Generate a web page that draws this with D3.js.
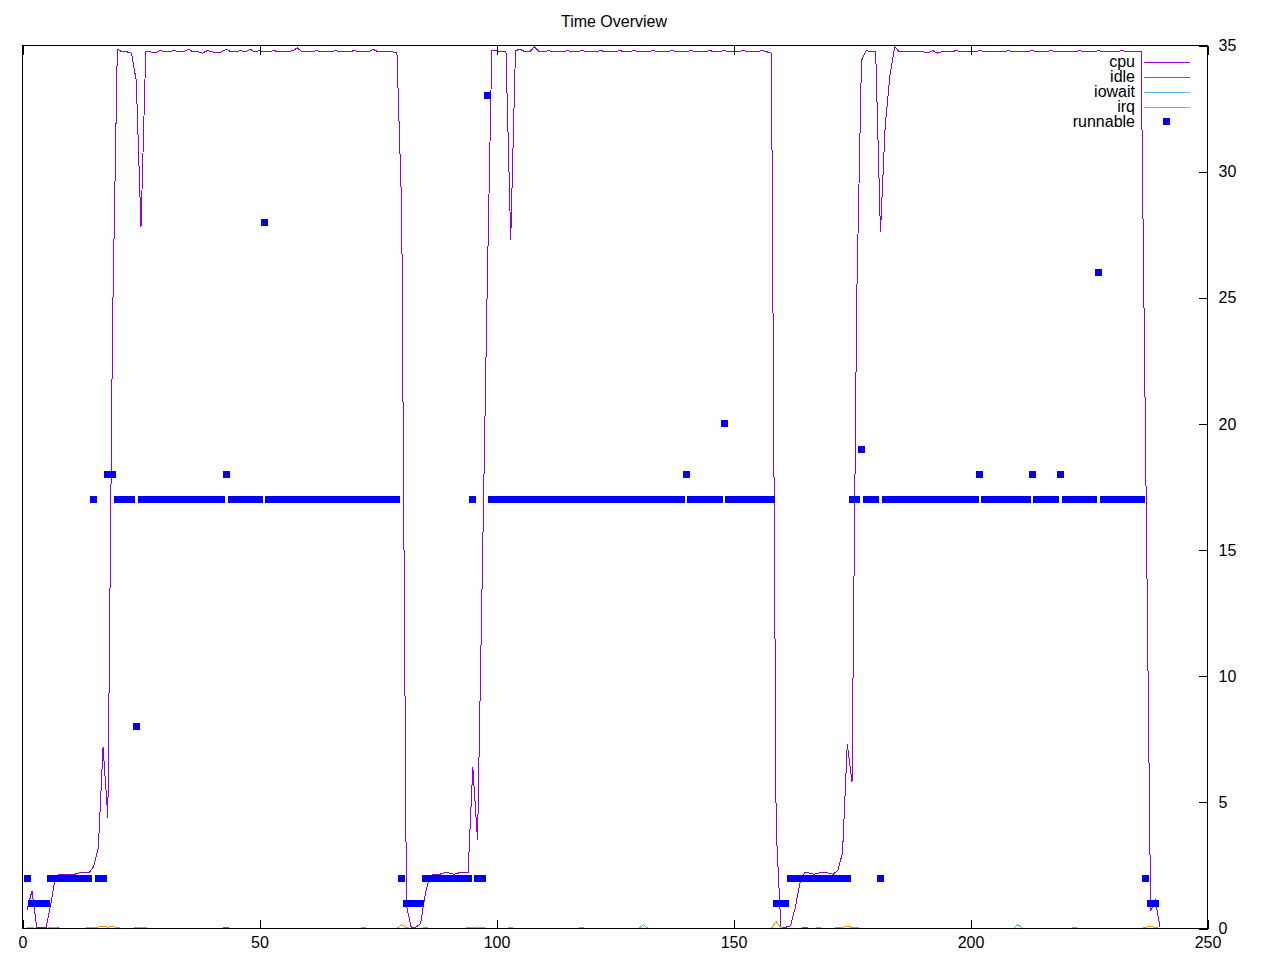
<!DOCTYPE html>
<html>
<head>
<meta charset="utf-8">
<script src="https://cdn.jsdelivr.net/npm/d3@7"></script>
<style>
  body { margin: 0; background: #fff; }
  svg { font-family: 'Liberation Sans', Arial, sans-serif; font-size: 16px; }
</style>
</head>
<body>
<svg id="chart" width="1280" height="960"></svg>
<script>
// Données : un échantillon par seconde, à partir de t = 1
var timeStart = 1
var seriesNames = ['cpu', 'idle', 'iowait', 'irq']
var seriesColors = ['#9400d3', '#009e73', '#56b4e9', '#e69f00']
var pointColor = '#0000ff'
var xTicks = [0, 50, 100, 150, 200, 250]
var yTicks = [0, 5, 10, 15, 20, 25, 30, 35]

var cpu = [
  0.75, 1.5, 0.05, 0.05, 0.05, 1.0, 2.1, 2.15, 2.15, 2.15,
  2.15, 2.2, 2.2, 2.2, 2.45, 3.2, 7.2, 4.4, 24, 34.85,
  34.75, 34.75, 34.7, 33.6, 27.8, 34.75, 34.75, 34.7, 34.8, 34.75,
  34.75, 34.8, 34.75, 34.75, 34.85, 34.75, 34.75, 34.7, 34.8, 34.75,
  34.7, 34.75, 34.85, 34.75, 34.75, 34.8, 34.75, 34.85, 34.75, 34.8,
  34.75, 34.75, 34.8, 34.75, 34.75, 34.75, 34.8, 34.9, 34.75, 34.75,
  34.75, 34.8, 34.75, 34.75, 34.75, 34.8, 34.75, 34.75, 34.75, 34.8,
  34.75, 34.75, 34.75, 34.85, 34.75, 34.75, 34.75, 34.75, 34.7, 28.5,
  0.9, 0.05, 0.05, 0.2, 1.4, 2.1, 2.15, 2.15, 2.2, 2.2,
  2.15, 2.2, 2.2, 2.2, 6.4, 3.5, 14, 25, 34.8, 34.8,
  34.75, 34.75, 27.3, 34.8, 34.85, 34.75, 34.75, 34.95, 34.75, 34.75,
  34.8, 34.75, 34.75, 34.75, 34.8, 34.75, 34.75, 34.8, 34.75, 34.75,
  34.75, 34.8, 34.75, 34.75, 34.75, 34.8, 34.75, 34.75, 34.8, 34.75,
  34.75, 34.75, 34.8, 34.75, 34.75, 34.75, 34.8, 34.75, 34.75, 34.75,
  34.8, 34.75, 34.75, 34.75, 34.8, 34.75, 34.75, 34.8, 34.75, 34.75,
  34.75, 34.8, 34.75, 34.75, 34.75, 34.8, 34.75, 34.7, 4, 0.05,
  0.05, 0.1, 0.8, 1.8, 2.2, 2.2, 2.15, 2.2, 2.2, 2.2,
  2.15, 2.3, 3.0, 7.3, 5.8, 25, 34.4, 34.8, 34.75, 34.75,
  27.6, 31.8, 33.8, 34.95, 34.75, 34.75, 34.75, 34.75, 34.75, 34.75,
  34.7, 34.8, 34.7, 34.75, 34.75, 34.75, 34.8, 34.75, 34.75, 34.75,
  34.75, 34.8, 34.75, 34.75, 34.75, 34.75, 34.75, 34.8, 34.75, 34.75,
  34.75, 34.75, 34.8, 34.75, 34.75, 34.75, 34.8, 34.75, 34.75, 34.75,
  34.75, 34.75, 34.8, 34.75, 34.75, 34.75, 34.8, 34.75, 34.75, 34.75,
  34.75, 34.8, 34.75, 34.75, 34.75, 34.75, 18, 0.7, 1.1, 0.05
]

var idle = [
  0, 0, 0, 0, 0, 0, 0.05, 0, 0, 0, 0, 0, 0, 0, 0, 0, 0, 0, 0, 0,
  0, 0, 0, 0, 0, 0, 0, 0, 0, 0, 0, 0, 0, 0, 0, 0, 0, 0, 0, 0,
  0, 0, 0.05, 0, 0, 0, 0, 0, 0, 0, 0, 0, 0, 0, 0, 0, 0, 0, 0, 0,
  0, 0, 0, 0, 0, 0, 0, 0, 0, 0, 0, 0, 0, 0, 0, 0, 0, 0, 0, 0,
  0, 0, 0, 0, 0, 0, 0, 0, 0, 0, 0, 0, 0, 0, 0, 0, 0, 0, 0, 0,
  0, 0, 0, 0, 0, 0, 0, 0, 0, 0, 0, 0, 0, 0, 0, 0, 0, 0, 0, 0,
  0, 0, 0, 0, 0, 0, 0, 0, 0, 0, 0, 0, 0, 0, 0, 0, 0, 0, 0, 0,
  0, 0, 0, 0, 0, 0, 0, 0, 0, 0, 0, 0, 0, 0, 0, 0, 0, 0, 0, 0,
  0, 0, 0, 0, 0.05, 0, 0, 0, 0, 0, 0, 0, 0, 0, 0, 0, 0, 0, 0, 0,
  0, 0, 0, 0, 0, 0, 0, 0, 0, 0, 0, 0, 0, 0, 0, 0, 0, 0, 0, 0,
  0, 0, 0, 0, 0, 0, 0, 0, 0, 0, 0, 0, 0, 0, 0, 0, 0, 0, 0, 0,
  0, 0, 0, 0, 0, 0, 0, 0, 0, 0, 0, 0, 0, 0, 0, 0, 0, 0, 0, 0
]

var iowait = [
  0, 0, 0, 0, 0, 0, 0, 0, 0, 0, 0, 0, 0, 0, 0, 0, 0, 0, 0, 0,
  0, 0, 0, 0, 0, 0, 0, 0, 0, 0, 0, 0, 0, 0, 0, 0, 0, 0, 0, 0,
  0, 0, 0, 0, 0, 0, 0, 0, 0, 0, 0, 0, 0, 0, 0, 0, 0, 0, 0, 0,
  0, 0, 0, 0, 0, 0, 0, 0, 0, 0, 0, 0, 0, 0, 0, 0, 0, 0, 0, 0,
  0, 0, 0, 0, 0, 0, 0, 0, 0, 0, 0, 0, 0, 0, 0, 0, 0, 0, 0, 0,
  0, 0, 0, 0, 0, 0, 0, 0, 0, 0, 0, 0, 0, 0, 0, 0, 0, 0, 0, 0,
  0, 0, 0, 0, 0, 0, 0, 0, 0, 0, 0.15, 0, 0, 0, 0, 0, 0, 0, 0, 0,
  0, 0, 0, 0, 0, 0, 0, 0, 0, 0, 0, 0, 0, 0, 0, 0, 0, 0, 0, 0,
  0, 0, 0, 0, 0, 0, 0, 0, 0, 0, 0, 0, 0, 0, 0, 0, 0, 0, 0, 0,
  0, 0, 0, 0, 0, 0, 0, 0, 0, 0, 0, 0, 0, 0, 0, 0, 0, 0, 0, 0,
  0, 0, 0, 0, 0, 0, 0, 0, 0, 0.15, 0, 0, 0, 0, 0, 0, 0, 0, 0, 0,
  0, 0, 0, 0, 0, 0, 0, 0, 0, 0, 0, 0, 0, 0, 0, 0, 0, 0, 0, 0
]

var irq = [
  0.04, 0.03, 0, 0, 0, 0.04, 0.03, 0, 0, 0, 0, 0, 0, 0.04, 0.04, 0.06, 0.1, 0.05, 0.08, 0.04,
  0, 0, 0, 0.04, 0.06, 0.03, 0, 0, 0, 0, 0, 0, 0, 0, 0, 0, 0, 0, 0, 0,
  0, 0, 0, 0, 0, 0, 0, 0, 0, 0, 0, 0, 0, 0, 0, 0, 0, 0, 0, 0,
  0, 0, 0, 0, 0, 0, 0, 0, 0, 0, 0, 0.04, 0, 0, 0, 0, 0, 0, 0, 0.15,
  0.04, 0, 0, 0, 0.04, 0, 0, 0, 0, 0, 0, 0, 0, 0.04, 0.05, 0.06, 0.04, 0, 0, 0,
  0, 0, 0.04, 0, 0, 0, 0, 0, 0, 0, 0, 0, 0, 0, 0, 0, 0, 0.04, 0, 0,
  0, 0, 0, 0, 0, 0, 0, 0, 0, 0, 0, 0, 0, 0, 0, 0, 0, 0, 0, 0,
  0, 0, 0, 0, 0, 0, 0, 0, 0, 0, 0, 0, 0, 0, 0, 0, 0, 0, 0.28, 0.04,
  0, 0, 0, 0, 0, 0, 0, 0.04, 0, 0, 0, 0.04, 0.05, 0.08, 0.05, 0.04, 0, 0, 0, 0,
  0, 0, 0, 0, 0, 0, 0, 0, 0, 0, 0, 0, 0, 0, 0, 0, 0, 0, 0, 0,
  0, 0, 0, 0, 0, 0, 0, 0, 0, 0, 0, 0, 0, 0, 0, 0, 0, 0, 0, 0,
  0, 0.04, 0, 0, 0, 0, 0, 0, 0, 0, 0, 0, 0, 0, 0, 0, 0.05, 0.08, 0.04, 0
]

var runnable = [
  2, 1, 1, 1, 1, 2, 2, 2, 2, 2,
  2, 2, 2, 2, 17, 2, 2, 18, 18, 17,
  17, 17, 17, 8, 17, 17, 17, 17, 17, 17,
  17, 17, 17, 17, 17, 17, 17, 17, 17, 17,
  17, 17, 18, 17, 17, 17, 17, 17, 17, 17,
  28, 17, 17, 17, 17, 17, 17, 17, 17, 17,
  17, 17, 17, 17, 17, 17, 17, 17, 17, 17,
  17, 17, 17, 17, 17, 17, 17, 17, 17, 2,
  1, 1, 1, 1, 2, 2, 2, 2, 2, 2,
  2, 2, 2, 2, 17, 2, 2, 33, 17, 17,
  17, 17, 17, 17, 17, 17, 17, 17, 17, 17,
  17, 17, 17, 17, 17, 17, 17, 17, 17, 17,
  17, 17, 17, 17, 17, 17, 17, 17, 17, 17,
  17, 17, 17, 17, 17, 17, 17, 17, 17, 18,
  17, 17, 17, 17, 17, 17, 17, 20, 17, 17,
  17, 17, 17, 17, 17, 17, 17, 17, 1, 1,
  1, 2, 2, 2, 2, 2, 2, 2, 2, 2,
  2, 2, 2, 2, 17, 17, 19, 17, 17, 17,
  2, 17, 17, 17, 17, 17, 17, 17, 17, 17,
  17, 17, 17, 17, 17, 17, 17, 17, 17, 17,
  17, 18, 17, 17, 17, 17, 17, 17, 17, 17,
  17, 17, 18, 17, 17, 17, 17, 17, 18, 17,
  17, 17, 17, 17, 17, 17, 26, 17, 17, 17,
  17, 17, 17, 17, 17, 17, 2, 1, 1
]

// Cadre du graphique
var plot = { left: 22.5, right: 1207.5, top: 45.5, bottom: 928.5 }
var tickLength = 9
var pointSize = 7

var svg = d3.select('#chart')

svg.append('rect')
  .attr('width', 1280)
  .attr('height', 960)
  .attr('fill', '#fff')

var xScale = d3.scaleLinear().domain([0, 250]).range([plot.left, plot.right])
var yScale = d3.scaleLinear().domain([0, 35]).range([plot.bottom, plot.top])

// Titre
svg.append('text')
  .attr('x', 614)
  .attr('y', 26.5)
  .attr('text-anchor', 'middle')
  .text('Time Overview')

// Zone de découpe
svg.append('clipPath')
  .attr('id', 'plot-clip')
  .append('rect')
  .attr('x', plot.left)
  .attr('y', plot.top)
  .attr('width', plot.right - plot.left)
  .attr('height', plot.bottom - plot.top)

var dataLayer = svg.append('g').attr('clip-path', 'url(#plot-clip)')

var line = d3.line()
  .x(function (d, i) { return xScale(timeStart + i) })
  .y(function (d) { return yScale(d) })

var seriesData = [cpu, idle, iowait, irq]

seriesData.forEach(function (values, k) {
  dataLayer.append('path')
    .datum(values)
    .attr('fill', 'none')
    .attr('stroke', seriesColors[k])
    .attr('stroke-width', 1)
    .attr('shape-rendering', 'crispEdges')
    .attr('d', line)
})

// Points "runnable"
dataLayer.selectAll('.runnable')
  .data(runnable)
  .enter()
  .append('rect')
  .attr('class', 'runnable')
  .attr('x', function (d, i) { return Math.round(xScale(timeStart + i) - pointSize / 2) })
  .attr('y', function (d) { return Math.round(yScale(d) - pointSize / 2) })
  .attr('width', pointSize)
  .attr('height', pointSize)
  .attr('fill', pointColor)
  .attr('shape-rendering', 'crispEdges')

// Axes (graduations vers l'intérieur, étiquettes y à droite seulement)
var xAxisBottom = d3.axisBottom(xScale).tickValues(xTicks).tickSize(-tickLength).tickPadding(8).tickSizeOuter(0)
var xAxisTop = d3.axisTop(xScale).tickValues(xTicks).tickSize(-tickLength).tickFormat('').tickSizeOuter(0)
var yAxisRight = d3.axisRight(yScale).tickValues(yTicks).tickSize(-tickLength).tickPadding(11).tickSizeOuter(0)

function drawAxis (axis, tx, ty) {
  var g = svg.append('g')
    .attr('transform', 'translate(' + tx + ',' + ty + ')')
    .call(axis)
  g.select('.domain').remove()
  g.selectAll('line').attr('stroke', '#000').attr('shape-rendering', 'crispEdges')
  g.selectAll('text')
    .attr('fill', '#000')
    .style('font-family', "'Liberation Sans', Arial, sans-serif")
    .style('font-size', '16px')
  return g
}

drawAxis(xAxisBottom, 0, plot.bottom)
drawAxis(xAxisTop, 0, plot.top)
drawAxis(yAxisRight, plot.right, 0)

// Bordure
svg.append('rect')
  .attr('x', plot.left)
  .attr('y', plot.top)
  .attr('width', plot.right - plot.left)
  .attr('height', plot.bottom - plot.top)
  .attr('fill', 'none')
  .attr('stroke', '#000')
  .attr('stroke-width', 1)
  .attr('shape-rendering', 'crispEdges')

// Légende
var legendRight = 1135
var legendTop = 66.5
var legendStep = 15
var legendNames = seriesNames.concat(['runnable'])

var legend = svg.append('g').attr('class', 'legend')

legendNames.forEach(function (name, i) {
  var baseY = legendTop + i * legendStep
  legend.append('text')
    .attr('x', legendRight)
    .attr('y', baseY)
    .attr('text-anchor', 'end')
    .text(name)
  if (i < seriesNames.length) {
    legend.append('line')
      .attr('x1', 1144)
      .attr('x2', 1190)
      .attr('y1', baseY - 4)
      .attr('y2', baseY - 4)
      .attr('stroke', seriesColors[i])
      .attr('shape-rendering', 'crispEdges')
  } else {
    legend.append('rect')
      .attr('x', 1163)
      .attr('y', Math.round(baseY - 8.5))
      .attr('width', pointSize)
      .attr('height', pointSize)
      .attr('fill', pointColor)
  }
})
</script>
</body>
</html>
